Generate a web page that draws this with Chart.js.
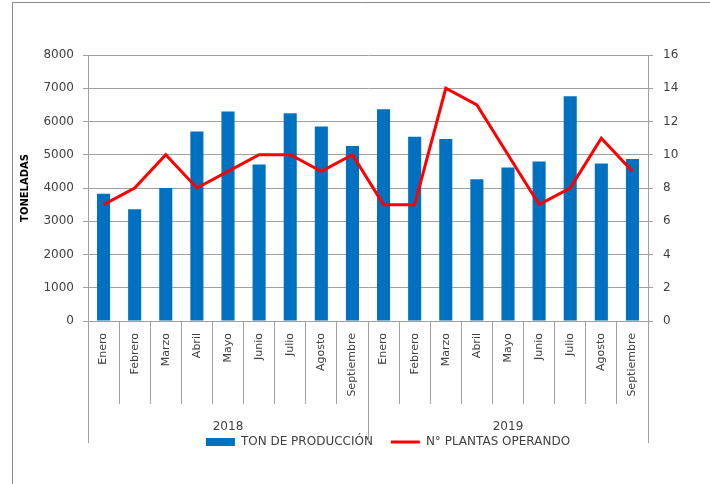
<!DOCTYPE html>
<html>
<head>
<meta charset="utf-8">
<script src="https://cdn.jsdelivr.net/npm/chart.js@4.4.1/dist/chart.umd.min.js"></script>
<style>
  html, body { margin: 0; padding: 0; background: #fff; }
  #wrap { position: relative; width: 710px; height: 484px; }
</style>
</head>
<body>
<div id="wrap"><canvas id="grafico" width="710" height="484"></canvas></div>
<script>
// Datos
const meses = ['Enero', 'Febrero', 'Marzo', 'Abril', 'Mayo', 'Junio', 'Julio', 'Agosto', 'Septiembre',
               'Enero', 'Febrero', 'Marzo', 'Abril', 'Mayo', 'Junio', 'Julio', 'Agosto', 'Septiembre'];
const anios = ['2018', '2019'];
const mesesPorAnio = [9, 9];
const toneladas = [3830, 3360, 4000, 5700, 6300, 4710, 6250, 5850, 5260,
                   6370, 5540, 5470, 4260, 4620, 4800, 6760, 4740, 4870];
const plantas = [7, 8, 10, 8, 9, 10, 10, 9, 10,
                 7, 7, 14, 13, 10, 7, 8, 11, 9];

const fuente = 'DejaVu Sans';
const gris = '#a0a0a0';
const texto = '#404040';

// Marco gris del area del grafico
const marco = {
    id: 'marco',
    beforeDraw(chart) {
        const ctx = chart.ctx;
        ctx.save();
        ctx.strokeStyle = '#8c8c8c';
        ctx.lineWidth = 1;
        ctx.beginPath();
        ctx.moveTo(12.5, chart.height);
        ctx.lineTo(12.5, 2.5);
        ctx.lineTo(chart.width, 2.5);
        ctx.stroke();
        ctx.restore();
    }
};

// Segundo nivel del eje X: los anios
const gruposAnio = {
    id: 'gruposAnio',
    afterDraw(chart) {
        const ctx = chart.ctx;
        const x = chart.scales.x;
        const abajo = chart.chartArea.bottom;
        const paso = x.getPixelForValue(1) - x.getPixelForValue(0);
        ctx.save();
        ctx.strokeStyle = gris;
        ctx.lineWidth = 1;
        ctx.fillStyle = texto;
        ctx.font = '12px "' + fuente + '"';
        ctx.textAlign = 'center';
        ctx.textBaseline = 'middle';
        let inicio = 0;
        anios.forEach((anio, i) => {
            const n = mesesPorAnio[i];
            const izq = x.getPixelForValue(inicio) - paso / 2;
            const der = x.getPixelForValue(inicio + n - 1) + paso / 2;
            [izq, der].forEach(px => {
                const p = Math.round(px) + 0.5;
                ctx.beginPath();
                ctx.moveTo(p, abajo);
                ctx.lineTo(p, abajo + 122);
                ctx.stroke();
            });
            ctx.fillText(anio, (izq + der) / 2, abajo + 106);
            inicio += n;
        });
        ctx.restore();
    }
};

// Mueve la leyenda para centrarla como en el original
const moverLeyenda = {
    id: 'moverLeyenda',
    afterLayout(chart) {
        chart.legend.left += 33;
        chart.legend.right += 33;
    }
};

new Chart(document.getElementById('grafico'), {
    data: {
        labels: meses,
        datasets: [{
            type: 'bar',
            label: 'TON DE PRODUCCIÓN',
            data: toneladas,
            backgroundColor: '#0070C0',
            borderWidth: 0,
            barPercentage: 0.42,
            categoryPercentage: 1,
            pointStyle: 'rect',
            yAxisID: 'y',
            order: 2
        }, {
            type: 'line',
            label: 'N° PLANTAS OPERANDO',
            data: plantas,
            borderColor: '#FF0000',
            backgroundColor: '#FF0000',
            borderWidth: 3,
            pointRadius: 0,
            pointStyle: 'line',
            tension: 0,
            yAxisID: 'y1',
            order: 1
        }]
    },
    options: {
        responsive: false,
        animation: false,
        layout: { padding: { top: 55, left: 0, right: 0, bottom: 26 } },
        plugins: {
            tooltip: { enabled: false },
            legend: {
                position: 'bottom',
                labels: {
                    usePointStyle: true,
                    pointStyleWidth: 29,
                    boxHeight: 8,
                    padding: 18,
                    color: texto,
                    font: { family: fuente, size: 12 },
                    sort: (a, b) => a.datasetIndex - b.datasetIndex
                }
            }
        },
        scales: {
            x: {
                offset: true,
                grid: { offset: true, drawOnChartArea: false, drawTicks: true, tickLength: 83, color: gris },
                border: { color: gris },
                ticks: {
                    autoSkip: false, maxRotation: 90, minRotation: 90, padding: -71,
                    color: texto, font: { family: fuente, size: 11 }
                },
                afterFit(s) { s.height = 97; }
            },
            y: {
                position: 'left',
                min: 0, max: 8000,
                ticks: {
                    stepSize: 1000, padding: 9, color: texto, font: { family: fuente, size: 12 },
                    callback: v => String(v)
                },
                grid: { color: gris, tickLength: 5 },
                border: { color: gris },
                title: {
                    display: true, text: 'TONELADAS', color: '#000',
                    font: { family: fuente, size: 10, weight: 'bold' },
                    padding: { top: 19, bottom: 0 }
                },
                afterFit(s) { s.width = 88; }
            },
            y1: {
                position: 'right',
                min: 0, max: 16,
                ticks: { stepSize: 2, padding: 10, color: texto, font: { family: fuente, size: 12 } },
                grid: { drawOnChartArea: false, color: gris, tickLength: 5 },
                border: { color: gris },
                afterFit(s) { s.width = 62; }
            }
        }
    },
    plugins: [marco, gruposAnio, moverLeyenda]
});
</script>
</body>
</html>
